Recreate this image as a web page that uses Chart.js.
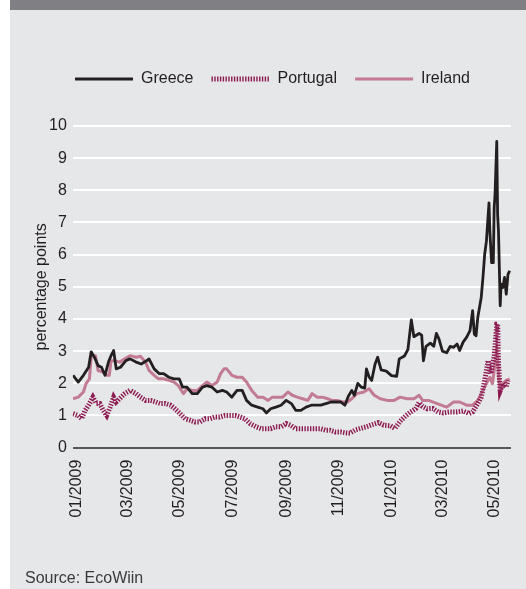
<!DOCTYPE html>
<html><head><meta charset="utf-8">
<script src="https://cdn.jsdelivr.net/npm/chart.js@4.4.1/dist/chart.umd.min.js"></script>
<style>
html,body{margin:0;padding:0;background:#fff;width:526px;height:589px;overflow:hidden;font-family:"Liberation Sans",Arial,sans-serif;}
#bar{position:absolute;left:10px;top:0;width:516px;height:10px;background:#808084;}
#panel{position:absolute;left:10px;top:10px;width:516px;height:579px;background:#e6e7e9;}
#c{position:absolute;left:0;top:0;}
#src{position:absolute;left:15px;top:560px;font-size:16px;line-height:16px;color:#3a3a3a;white-space:nowrap;}
</style></head>
<body>
<div id="bar"></div>
<div id="panel"><canvas id="c" width="516" height="579"></canvas><div id="src">Source: EcoWiin</div></div>
<script>
// x = days since 1 Jan 2009
const tickDays = [0, 59, 120, 181, 243, 304, 365, 424, 485];
const tickLabels = ['01/2009','03/2009','05/2009','07/2009','09/2009','11/2009','01/2010','03/2010','05/2010'];
const yTickValues = [0,1,2,3,4,5,6,7,8,9,10];

const greeceDays = [-4,2,8,14,17,21,25,29,33,37,40,43,46,51,57,62,69,75,81,84,90,96,101,107,113,119,123,128,134,140,146,151,157,163,169,174,180,186,192,197,203,210,216,220,225,231,237,243,249,254,260,266,272,277,283,289,295,300,306,311,315,319,322,326,330,334,336,339,342,346,349,353,359,365,371,374,380,384,388,391,397,400,402,405,410,414,417,420,424,429,433,437,441,444,448,452,456,459,461,463,465,469,471,473,475,478,479,481,483,484,485,487,488,489,491,492,494,496,498,500,502];
const greeceVals = [2.25,2.04,2.25,2.5,2.98,2.8,2.55,2.5,2.25,2.66,2.86,3.02,2.45,2.5,2.7,2.76,2.66,2.6,2.7,2.76,2.45,2.3,2.3,2.19,2.14,2.14,1.88,1.88,1.68,1.68,1.88,1.93,1.88,1.73,1.78,1.73,1.57,1.78,1.78,1.47,1.32,1.26,1.21,1.08,1.21,1.26,1.32,1.47,1.37,1.16,1.16,1.26,1.32,1.32,1.32,1.37,1.42,1.42,1.42,1.32,1.6,1.78,1.63,2.0,1.88,1.85,2.45,2.2,2.09,2.6,2.81,2.42,2.38,2.24,2.22,2.76,2.85,3.05,3.97,3.45,3.55,3.5,2.7,3.15,3.25,3.15,3.55,3.38,3.0,2.95,3.15,3.12,3.22,3.02,3.28,3.43,3.64,4.26,3.53,3.48,4.05,4.67,5.29,6.01,6.42,7.61,6.73,5.75,5.75,7.46,7.87,9.52,7.25,6.73,4.41,5.08,4.98,5.29,4.77,5.39,5.5];

const portugalDays = [-4,2,6,10,14,19,23,27,31,35,39,43,46,50,56,62,69,74,80,86,92,97,103,109,114,120,126,132,137,143,149,155,160,166,172,178,184,190,195,201,208,214,219,225,231,237,243,248,254,260,266,271,277,283,289,294,300,306,312,317,323,328,336,341,350,356,364,369,375,381,387,393,397,401,406,413,419,425,432,440,448,455,459,465,469,473,477,479,480,484,487,488,489,491,494,498,500];
const portugalVals = [1.06,1.0,0.9,1.16,1.32,1.57,1.37,1.37,1.16,1.0,1.26,1.57,1.42,1.52,1.68,1.78,1.68,1.57,1.47,1.47,1.42,1.37,1.37,1.32,1.21,1.06,0.9,0.85,0.8,0.8,0.9,0.9,0.95,0.95,1.0,1.0,1.0,0.95,0.9,0.75,0.65,0.59,0.59,0.59,0.65,0.65,0.75,0.7,0.59,0.59,0.59,0.59,0.59,0.59,0.54,0.54,0.49,0.49,0.46,0.45,0.55,0.59,0.65,0.7,0.78,0.7,0.68,0.6,0.82,0.98,1.11,1.21,1.4,1.28,1.21,1.22,1.11,1.08,1.11,1.11,1.14,1.06,1.11,1.37,1.57,2.09,2.71,2.4,2.3,2.81,3.84,3.84,2.6,1.78,1.99,1.88,2.09];

const irelandDays = [-4,2,8,11,15,17,19,22,25,31,35,38,40,44,50,56,62,69,74,80,84,90,95,101,107,113,118,124,128,134,140,146,151,157,163,167,171,174,180,186,192,197,203,210,216,222,227,233,239,245,250,256,262,268,273,279,285,291,296,302,308,314,319,325,333,339,345,352,360,368,375,383,391,397,401,408,418,425,429,437,444,452,459,465,471,475,479,482,485,487,489,491,494,498,502];
const irelandVals = [1.52,1.57,1.73,1.99,2.14,2.81,2.86,2.86,2.4,2.35,2.25,2.25,2.7,2.7,2.66,2.76,2.86,2.81,2.84,2.66,2.4,2.25,2.14,2.14,2.09,2.04,1.93,1.68,1.83,1.78,1.78,1.93,2.04,1.93,2.04,2.3,2.45,2.45,2.25,2.19,2.19,2.04,1.78,1.57,1.57,1.47,1.57,1.57,1.57,1.73,1.63,1.57,1.52,1.47,1.68,1.57,1.57,1.52,1.47,1.47,1.42,1.42,1.52,1.68,1.73,1.83,1.63,1.52,1.47,1.47,1.57,1.52,1.52,1.63,1.47,1.47,1.37,1.3,1.26,1.42,1.42,1.32,1.32,1.47,1.78,1.99,2.19,1.99,2.6,3.12,2.3,1.68,1.99,2.09,2.14];

const toPts = (xs, ys) => xs.map((x, i) => ({x, y: ys[i]}));
const FONT = {family: '"Liberation Sans", Arial, sans-serif', size: 16};
const TXT = '#231f20';

const legendGap = {
  id: 'legendGap',
  afterInit(chart) {
    const lg = chart.legend;
    const fit = lg.fit;
    lg.fit = function () { fit.call(this); this.height += 29; };
  }
};

new Chart(document.getElementById('c'), {
  type: 'line',
  data: {
    datasets: [
      {label: 'Greece', data: toPts(greeceDays, greeceVals), borderColor: '#231f20', borderWidth: 2.8, pointRadius: 0, tension: 0, borderJoinStyle: 'round'},
      {label: 'Portugal', data: toPts(portugalDays, portugalVals), borderColor: '#8d1b52', borderWidth: 5, borderDash: [1.4, 1.4], pointRadius: 0, tension: 0},
      {label: 'Ireland', data: toPts(irelandDays, irelandVals), borderColor: '#c27b93', borderWidth: 3, pointRadius: 0, tension: 0, borderJoinStyle: 'round'}
    ]
  },
  options: {
    responsive: false, animation: false, devicePixelRatio: 1,
    layout: {padding: {left: 24, right: 15, top: 43, bottom: 69.5}},
    plugins: {
      tooltip: {enabled: false},
      legend: {
        position: 'top', align: 'center',
        labels: {
          usePointStyle: true, pointStyle: 'line', pointStyleWidth: 58, boxHeight: 16,
          padding: 18, font: FONT, color: TXT,
          generateLabels: (chart) => chart.data.datasets.map((ds, i) => ({
            text: ds.label, fillStyle: ds.borderColor, strokeStyle: ds.borderColor,
            lineWidth: ds.borderWidth, lineDash: ds.borderDash || [], lineCap: 'butt',
            pointStyle: 'line', hidden: false, datasetIndex: i, fontColor: TXT
          }))
        }
      }
    },
    scales: {
      x: {
        type: 'linear', min: -4.3, max: 503.5,
        grid: {display: false, drawTicks: true, tickLength: 10}, border: {display: false},
        afterBuildTicks: (s) => { s.ticks = tickDays.map(v => ({value: v})); },
        ticks: {autoSkip: false, minRotation: 90, maxRotation: 90, padding: 2, font: FONT, color: TXT,
          callback: (v) => tickLabels[tickDays.indexOf(v)]}
      },
      y: {
        min: 0, max: 10,
        afterBuildTicks: (s) => { s.ticks = yTickValues.map(v => ({value: v})); },
        grid: {color: (ctx) => ctx.tick && ctx.tick.value === 0 ? '#58585a' : '#ffffff', lineWidth: 2, drawTicks: false},
        border: {display: false},
        ticks: {padding: 6, font: FONT, color: TXT},
        title: {display: true, text: 'percentage points', font: {...FONT, lineHeight: 1}, color: TXT, padding: {top: 0, bottom: -7}}
      }
    }
  },
  plugins: [legendGap]
});
</script>
</body></html>
